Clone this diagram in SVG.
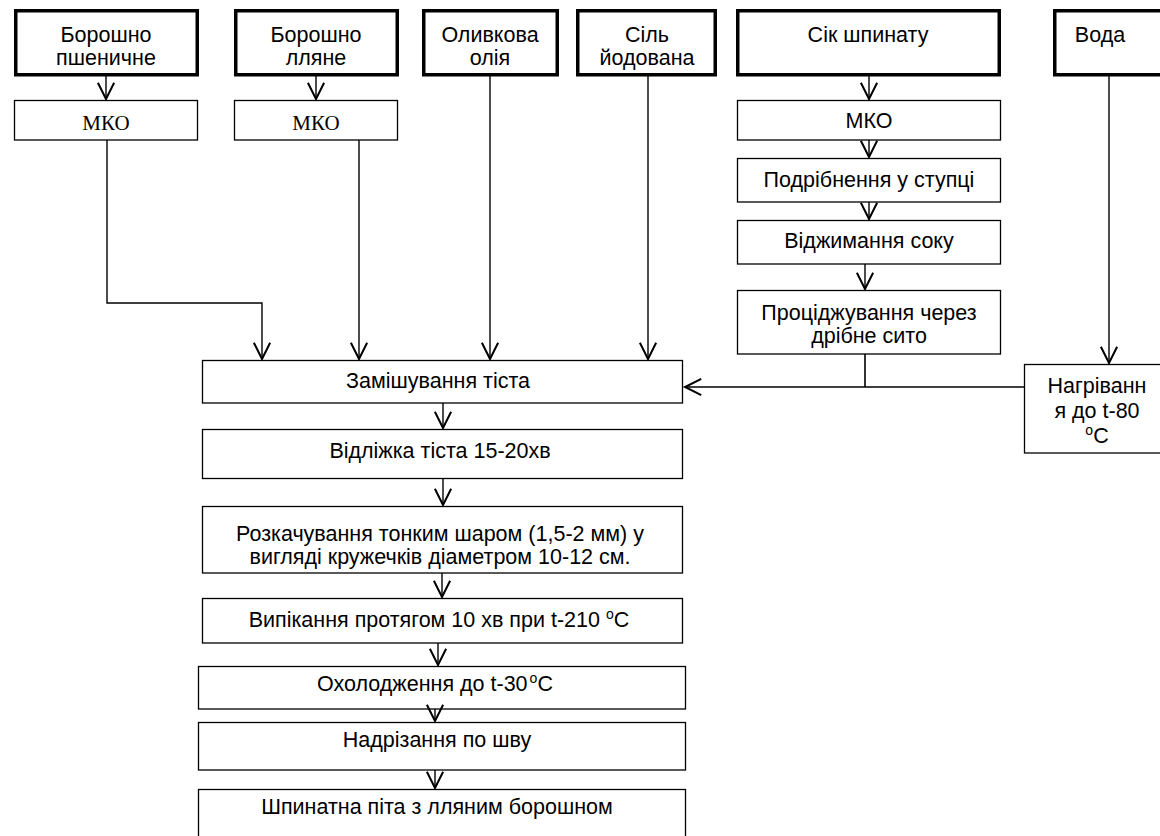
<svg xmlns="http://www.w3.org/2000/svg" width="1160" height="836" viewBox="0 0 1160 836">
<style>
.bg{fill:#fff}
.thick{fill:#fff;stroke:#000;stroke-width:3.5}
.thin{fill:#fff;stroke:#000;stroke-width:1.3}
.t{font-family:"Liberation Sans",Arial,sans-serif;font-size:21.5px;fill:#000;text-anchor:middle}
.s{font-family:"Liberation Serif","Times New Roman",serif;font-size:21px;fill:#000;text-anchor:middle}
.c{fill:none;stroke:#000;stroke-width:1.4}
.c2{fill:none;stroke:#000;stroke-width:1.6}
</style>
<defs>
<marker id="ah" markerUnits="userSpaceOnUse" markerWidth="20" markerHeight="20" viewBox="-14 -8 16 16" refX="0" refY="0" orient="auto" overflow="visible">
<path d="M-13,-6.5 L0,0 L-13,6.5" fill="none" stroke="#000" stroke-width="1.6"/>
</marker>
</defs>
<rect class="bg" x="0" y="0" width="1160" height="836"/>

<g id="n-borosh-psh"><rect class="thick" x="15.75" y="10.75" width="181.5" height="64"/><text class="t" x="106" y="42">Борошно</text><text class="t" x="106" y="65">пшеничне</text></g>
<g id="n-borosh-llyane"><rect class="thick" x="235.75" y="10.75" width="161.5" height="64"/><text class="t" x="316" y="42">Борошно</text><text class="t" x="316" y="65">лляне</text></g>
<g id="n-oliya"><rect class="thick" x="423.75" y="10.75" width="133.5" height="64"/><text class="t" x="490" y="42">Оливкова</text><text class="t" x="490" y="65">олія</text></g>
<g id="n-sil"><rect class="thick" x="577.75" y="10.75" width="137.5" height="64"/><text class="t" x="647" y="42">Сіль</text><text class="t" x="647" y="65">йодована</text></g>
<g id="n-sik"><rect class="thick" x="737.75" y="10.75" width="261.5" height="64"/><text class="t" x="868" y="42">Сік шпинату</text></g>
<g id="n-voda"><rect class="thick" x="1054.75" y="10.75" width="120" height="64"/><text class="t" x="1100" y="42">Вода</text></g>

<g id="n-mko1"><rect class="thin" x="14.5" y="100.5" width="183" height="39.5"/><text class="s" x="106" y="130">МКО</text></g>
<g id="n-mko2"><rect class="thin" x="234.5" y="100.5" width="163" height="39.5"/><text class="s" x="316" y="130">МКО</text></g>
<g id="n-mko3"><rect class="thin" x="737.5" y="100.5" width="263" height="39.5"/><text class="t" x="869" y="128">МКО</text></g>
<g id="n-podribn"><rect class="thin" x="737.5" y="158.5" width="263" height="43.5"/><text class="t" x="869" y="187">Подрібнення у ступці</text></g>
<g id="n-vidzhym"><rect class="thin" x="737.5" y="220.5" width="263" height="43.5"/><text class="t" x="869" y="248">Віджимання соку</text></g>
<g id="n-protsidzh"><rect class="thin" x="737.5" y="290.5" width="263" height="63.5"/><text class="t" x="869" y="320">Проціджування через</text><text class="t" x="869" y="343">дрібне сито</text></g>
<g id="n-nagriv"><rect class="thin" x="1024.5" y="364.5" width="150" height="88.5"/><text class="t" x="1097" y="393">Нагріванн</text><text class="t" x="1097" y="418">я до t-80</text><text class="t" x="1097" y="443"><tspan font-size="14" dy="-8">o</tspan><tspan dy="8">C</tspan></text></g>

<g id="n-zamish"><rect class="thin" x="202.5" y="360.5" width="480" height="42.5"/><text class="t" x="438" y="388">Замішування тіста</text></g>
<g id="n-vidlizh"><rect class="thin" x="202.5" y="429.5" width="480" height="49"/><text class="t" x="440" y="458">Відліжка тіста 15-20хв</text></g>
<g id="n-rozkach"><rect class="thin" x="202.5" y="506.5" width="480" height="66.5"/><text class="t" x="440" y="541">Розкачування тонким шаром (1,5-2 мм) у</text><text class="t" x="440" y="564">вигляді кружечків діаметром 10-12 см.</text></g>
<g id="n-vypik"><rect class="thin" x="202.5" y="598.5" width="480" height="44.5"/><text class="t" x="439" y="627">Випікання протягом 10 хв при t-210 <tspan font-size="14" dy="-8">o</tspan><tspan dy="8">C</tspan></text></g>
<g id="n-okholod"><rect class="thin" x="198.5" y="666.5" width="487" height="42.5"/><text class="t" x="435" y="691">Охолодження до t-30<tspan font-size="14" dy="-8" dx="2">o</tspan><tspan dy="8">C</tspan></text></g>
<g id="n-nadriz"><rect class="thin" x="198.5" y="722.5" width="487" height="47.5"/><text class="t" x="437" y="747">Надрізання по шву</text></g>
<g id="n-pita"><rect class="thin" x="198.5" y="789.5" width="487" height="60"/><text class="t" x="437" y="814">Шпинатна піта з лляним борошном</text></g>

<g id="connectors">
<path class="c" d="M106,76 V99" marker-end="url(#ah)"/>
<path class="c" d="M316,76 V99" marker-end="url(#ah)"/>
<path class="c" d="M107,140 V303 H262 V359" marker-end="url(#ah)"/>
<path class="c" d="M359,140 V359" marker-end="url(#ah)"/>
<path class="c" d="M490,76 V359" marker-end="url(#ah)"/>
<path class="c" d="M648,76 V359" marker-end="url(#ah)"/>
<path class="c" d="M869,76 V99" marker-end="url(#ah)"/>
<path class="c" d="M869,140 V157" marker-end="url(#ah)"/>
<path class="c" d="M869,202 V219" marker-end="url(#ah)"/>
<path class="c" d="M865,264 V289" marker-end="url(#ah)"/>
<path class="c2" d="M865,354 V387"/>
<path class="c2" d="M1024,387 H685" marker-end="url(#ah)"/>
<path class="c" d="M1109,76 V363" marker-end="url(#ah)"/>
<path class="c" d="M443,403 V428" marker-end="url(#ah)"/>
<path class="c" d="M443,479 V505" marker-end="url(#ah)"/>
<path class="c" d="M442,573 V597" marker-end="url(#ah)"/>
<path class="c" d="M438,643 V665" marker-end="url(#ah)"/>
<path class="c" d="M435,709 V721" marker-end="url(#ah)"/>
<path class="c" d="M435,770 V788" marker-end="url(#ah)"/>
</g>
</svg>
